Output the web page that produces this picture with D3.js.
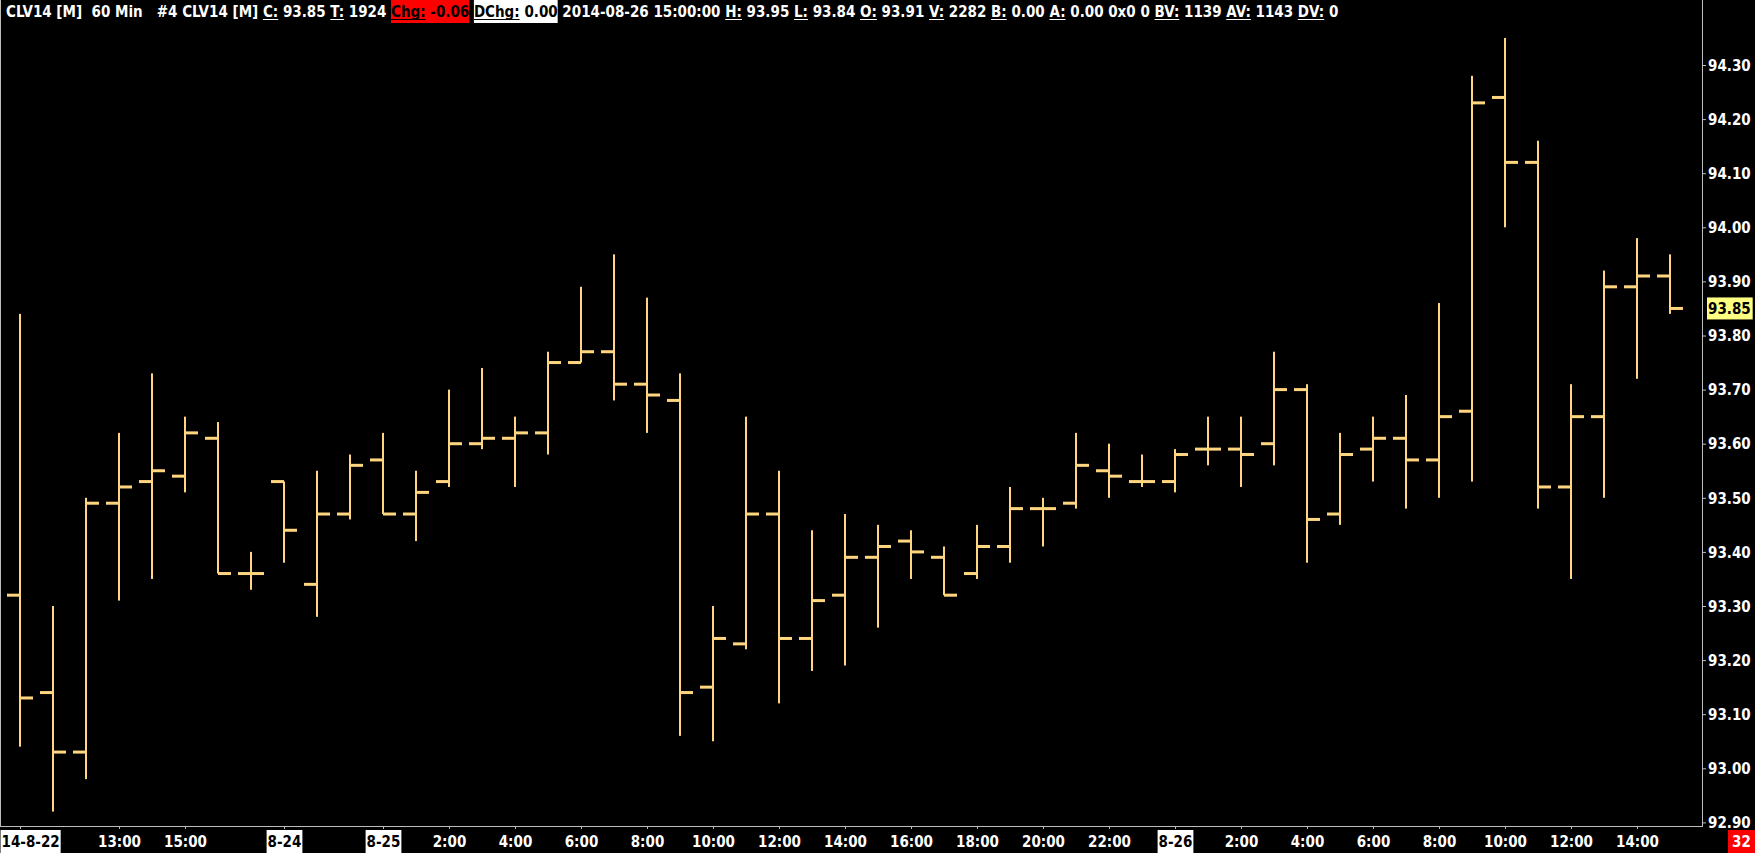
<!DOCTYPE html>
<html><head><meta charset="utf-8">
<script src="https://cdn.jsdelivr.net/npm/d3@7"></script>
<style>
html,body{margin:0;padding:0;background:#000;overflow:hidden}
text{font-family:"DejaVu Sans Condensed","DejaVu Sans",sans-serif;font-stretch:condensed}
</style></head>
<body><svg id="c" width="1755" height="853"></svg>
<script>
// ---- data ----
const barIndex = d3.range(51);
const opens  = [93.32,93.14,93.03,93.49,93.53,93.54,93.61,93.36,93.53,93.34, 93.47,93.57,93.47,93.53,93.60,93.61,93.62,93.75,93.77,93.71, 93.68,93.15,93.23,93.47,93.24,93.32,93.39,93.42,93.39,93.36, 93.41,93.48,93.49,93.55,93.53,93.53,93.59,93.59,93.60,93.70, 93.47,93.59,93.61,93.57,93.66,94.24,94.12,93.52,93.65,93.89, 93.91];
const highs  = [93.84,93.30,93.50,93.62,93.73,93.65,93.64,93.40,93.53,93.55, 93.58,93.62,93.55,93.70,93.74,93.65,93.77,93.89,93.95,93.87, 93.73,93.30,93.65,93.55,93.44,93.47,93.45,93.44,93.41,93.45, 93.52,93.50,93.62,93.60,93.58,93.59,93.65,93.65,93.77,93.71, 93.62,93.65,93.69,93.86,94.28,94.35,94.16,93.71,93.92,93.98, 93.95];
const lows   = [93.04,92.92,92.98,93.31,93.35,93.51,93.36,93.33,93.38,93.28, 93.46,93.47,93.42,93.52,93.59,93.52,93.58,93.75,93.68,93.62, 93.06,93.05,93.22,93.12,93.18,93.19,93.26,93.35,93.32,93.35, 93.38,93.41,93.48,93.50,93.52,93.51,93.56,93.52,93.56,93.38, 93.45,93.53,93.48,93.50,93.53,94.00,93.48,93.35,93.50,93.72, 93.84];
const closes = [93.13,93.03,93.49,93.52,93.55,93.62,93.36,93.36,93.44,93.47, 93.56,93.47,93.51,93.60,93.61,93.62,93.75,93.77,93.71,93.69, 93.14,93.24,93.47,93.24,93.31,93.39,93.41,93.40,93.32,93.41, 93.48,93.48,93.56,93.54,93.53,93.58,93.59,93.58,93.70,93.46, 93.58,93.61,93.57,93.65,94.23,94.12,93.52,93.65,93.89,93.91, 93.85];
const yTicks = [92.90,93.00,93.10,93.20,93.30,93.40,93.50,93.60,93.70,93.80,93.90,94.00,94.10,94.20,94.30];
const xTickBars   = [0,3,5,8,11,13,15,17,19,21,23,25,27,29,31,33,35,37,39,41,43,45,47,49];
const xTickLabels = ["14-8-22","13:00","15:00","8-24","8-25","2:00","4:00","6:00","8:00","10:00","12:00","14:00","16:00","18:00","20:00","22:00","8-26","2:00","4:00","6:00","8:00","10:00","12:00","14:00"];
const dateLabels = ["14-8-22","8-24","8-25","8-26"];
const lastPrice = 93.85;
const barCountLabel = "32";
const header = [
  {t:"CLV14 [M]  60 Min   #4 CLV14 [M]"},
  {l:"C:", v:"93.85"},{l:"T:", v:"1924"},
  {l:"Chg:", v:"-0.06", bg:"#ff0000", fg:"#000"},
  {l:"DChg:", v:"0.00", bg:"#ffffff", fg:"#000"},
  {t:"2014-08-26 15:00:00"},
  {l:"H:", v:"93.95"},{l:"L:", v:"93.84"},{l:"O:", v:"93.91"},{l:"V:", v:"2282"},
  {l:"B:", v:"0.00"},{l:"A:", v:"0.00"},{t:"0x0 0"},
  {l:"BV:", v:"1139"},{l:"AV:", v:"1143"},{l:"DV:", v:"0"}
];

// ---- layout ----
const W=1755,H=853, plotRight=1702, plotBottom=826;
const svg=d3.select("#c");
svg.append("rect").attr("width",W).attr("height",H).attr("fill","#000");
const x=d3.scaleLinear().domain([0,50]).range([20,1670]);
const y=d3.scaleLinear().domain([92.9,94.3]).range([822.4,65]);
const barColor="#ffd67f", axisColor="#bdbdbd";

// frame lines
svg.append("line").attr("x1",0.5).attr("x2",0.5).attr("y1",0).attr("y2",plotBottom).attr("stroke",axisColor);
svg.append("line").attr("x1",plotRight+0.5).attr("x2",plotRight+0.5).attr("y1",0).attr("y2",plotBottom+1).attr("stroke",axisColor);
svg.append("line").attr("x1",0).attr("x2",plotRight).attr("y1",plotBottom+0.5).attr("y2",plotBottom+0.5).attr("stroke",axisColor);

// y axis
const yAxis=d3.axisRight(y).tickValues(yTicks).tickFormat(d3.format(".2f")).tickSize(4).tickPadding(2);
const ya=svg.append("g").attr("transform",`translate(${plotRight},0)`).call(yAxis);
ya.select(".domain").remove();
ya.selectAll(".tick line").attr("stroke",axisColor);
ya.selectAll(".tick text").attr("fill","#fff").attr("font-size",15).attr("font-weight","bold").attr("dy","0.35em");

// last price marker
const lp=svg.append("g");
const lpText=lp.append("text").attr("x",plotRight+6).attr("y",y(lastPrice)).attr("dy","0.35em").attr("font-size",15).attr("font-weight","bold").attr("fill","#000").text(d3.format(".2f")(lastPrice));
const lpw=lpText.node().getComputedTextLength();
lp.insert("rect","text").attr("x",plotRight+5).attr("y",y(lastPrice)-11).attr("width",lpw+3).attr("height",22).attr("fill","#ffff80");

// x axis
const xAxis=d3.axisBottom(x).tickValues(xTickBars).tickFormat((d,i)=>xTickLabels[i]).tickSize(3).tickPadding(4);
const xa=svg.append("g").attr("transform",`translate(0,${plotBottom})`).call(xAxis);
xa.select(".domain").remove();
xa.selectAll(".tick line").attr("stroke",axisColor);
xa.selectAll(".tick text").attr("fill","#fff").attr("font-size",15).attr("font-weight","bold").attr("dy","0.9em");
xa.selectAll(".tick").each(function(d,i){
  const lab=xTickLabels[i];
  if(dateLabels.includes(lab)){
    const g=d3.select(this), t=g.select("text");
    const bb=t.node().getBBox();
    let shift=0;
    if(x(d)+bb.x<1){ shift=1-(x(d)+bb.x); t.attr("transform",`translate(${shift},0)`); }
    g.insert("rect","text").attr("x",bb.x+shift-1).attr("y",4).attr("width",bb.width+2).attr("height",H-plotBottom-4).attr("fill","#fff");
    t.attr("fill","#000");
  }
});

// bar count box
const bc=svg.append("g");
bc.append("rect").attr("x",1728).attr("y",830).attr("width",27).attr("height",23).attr("fill","#ff0000");
bc.append("text").attr("x",1741.5).attr("y",842).attr("dy","0.35em").attr("text-anchor","middle").attr("font-size",15).attr("font-weight","bold").attr("fill","#fff").text(barCountLabel);

// OHLC bars
const bars=svg.append("g").selectAll("g").data(barIndex).join("g");
bars.append("rect").attr("x",i=>x(i)-1).attr("width",2).attr("y",i=>y(highs[i])).attr("height",i=>Math.max(1,y(lows[i])-y(highs[i]))).attr("fill",barColor);
bars.append("rect").attr("x",i=>x(i)-13).attr("width",13).attr("y",i=>y(opens[i])-1.5).attr("height",3).attr("fill",barColor);
bars.append("rect").attr("x",i=>x(i)).attr("width",13).attr("y",i=>y(closes[i])-1.5).attr("height",3).attr("fill",barColor);

// header
const hg=svg.append("g");
let cx=6; const base=17, fs=15;
function addText(str,fill,under){
  const t=hg.append("text").attr("x",cx).attr("y",base).attr("font-size",fs).attr("font-weight","bold").attr("fill",fill).attr("xml:space","preserve").style("white-space","pre").text(str);
  const w=t.node().getComputedTextLength();
  if(under) hg.append("line").attr("x1",cx).attr("x2",cx+w).attr("y1",base+2.5).attr("y2",base+2.5).attr("stroke",fill).attr("stroke-width",1);
  cx+=w; return t;
}
const spaceW=(()=>{const t=hg.append("text").attr("font-size",fs).attr("font-weight","bold").text("a a");const a=t.node().getComputedTextLength();t.text("aa");const b=t.node().getComputedTextLength();t.remove();return a-b;})();
header.forEach(h=>{
  if(h.t!==undefined){ addText(h.t,"#fff",false); cx+=spaceW; return; }
  const start=cx;
  let bgRect=null;
  if(h.bg) bgRect=hg.append("rect").attr("x",start).attr("y",0).attr("height",23).attr("fill",h.bg);
  const fg=h.fg||"#fff";
  addText(h.l,fg,true); cx+=spaceW; addText(h.v,fg,false);
  if(bgRect) bgRect.attr("width",cx-start);
  cx+=spaceW;
});
</script></body></html>
